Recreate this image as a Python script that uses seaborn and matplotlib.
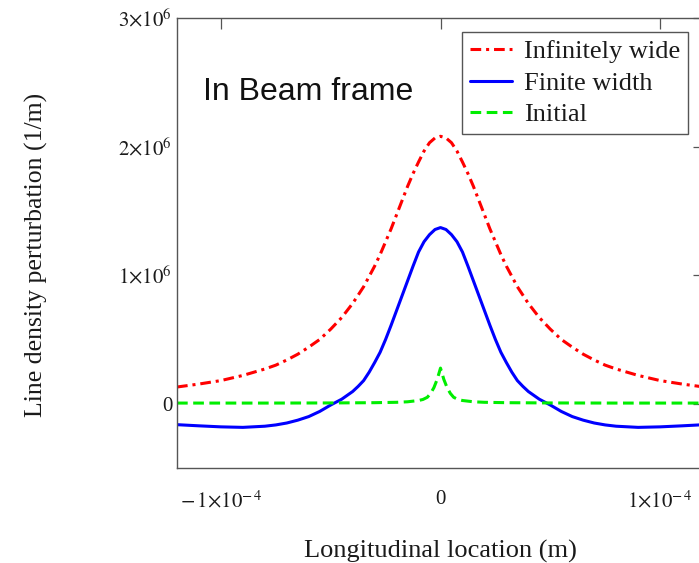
import numpy as np
import pandas as pd
import matplotlib
matplotlib.use("Agg")
import matplotlib.pyplot as plt
import seaborn as sns

# Longitudinal position in units of 1e-4 m, perturbation in units of 1e6 1/m
x_wide = [-1.2, -1.1, -1.0, -0.9, -0.8, -0.75, -0.7, -0.65, -0.6, -0.55, -0.5, -0.45,
          -0.4, -0.375, -0.35, -0.325, -0.3, -0.275, -0.25, -0.225, -0.2, -0.175,
          -0.15, -0.125, -0.1, -0.075, -0.05, -0.025, 0.0,
          0.025, 0.05, 0.075, 0.1, 0.125, 0.15, 0.175, 0.2, 0.225, 0.25, 0.275,
          0.3, 0.325, 0.35, 0.375, 0.4, 0.45, 0.5, 0.55, 0.6, 0.65, 0.7, 0.75,
          0.8, 0.9, 1.0, 1.1, 1.2]
y_wide = [0.13, 0.153, 0.18, 0.22, 0.27, 0.30, 0.34, 0.385, 0.44, 0.50, 0.58, 0.67,
          0.78, 0.845, 0.91, 0.99, 1.07, 1.16, 1.26, 1.36, 1.47, 1.58,
          1.69, 1.79, 1.88, 1.965, 2.03, 2.067, 2.08,
          2.067, 2.03, 1.965, 1.88, 1.79, 1.69, 1.58, 1.47, 1.36, 1.26, 1.16,
          1.07, 0.99, 0.91, 0.845, 0.78, 0.67, 0.58, 0.50, 0.44, 0.385, 0.34, 0.30,
          0.27, 0.22, 0.18, 0.153, 0.13]

x_finite = [-1.2, -1.1, -1.0, -0.9, -0.8, -0.75, -0.7, -0.65, -0.6, -0.55, -0.5,
            -0.45, -0.4, -0.375, -0.35, -0.325, -0.3, -0.275, -0.25, -0.225, -0.2,
            -0.175, -0.15, -0.125, -0.1, -0.075, -0.05, -0.025, 0.0,
            0.025, 0.05, 0.075, 0.1, 0.125, 0.15, 0.175, 0.2, 0.225, 0.25, 0.275,
            0.3, 0.325, 0.35, 0.375, 0.4, 0.45, 0.5, 0.55, 0.6, 0.65, 0.7, 0.75,
            0.8, 0.9, 1.0, 1.1, 1.2]
y_finite = [-0.163, -0.172, -0.18, -0.184, -0.175, -0.165, -0.15, -0.128, -0.10,
            -0.06, -0.01, 0.035, 0.095, 0.135, 0.18, 0.245, 0.32, 0.40, 0.50, 0.61,
            0.725, 0.84, 0.955, 1.07, 1.18, 1.26, 1.315, 1.355, 1.37,
            1.355, 1.315, 1.26, 1.18, 1.07, 0.955, 0.84, 0.725, 0.61, 0.50, 0.40,
            0.32, 0.245, 0.18, 0.135, 0.095, 0.035, -0.01, -0.06, -0.10, -0.128,
            -0.15, -0.165, -0.175, -0.184, -0.18, -0.172, -0.163]

x_initial = [-1.2, -0.8, -0.5, -0.3, -0.2, -0.15, -0.1, -0.08, -0.06, -0.045, -0.03,
             -0.015, 0.0, 0.015, 0.03, 0.045, 0.06, 0.08, 0.1, 0.15, 0.2, 0.3, 0.5,
             0.8, 1.2]
y_initial = [0.005, 0.005, 0.006, 0.008, 0.011, 0.015, 0.025, 0.033, 0.05, 0.08, 0.125,
             0.19, 0.277, 0.19, 0.125, 0.08, 0.05, 0.033, 0.025, 0.015, 0.011, 0.008,
             0.006, 0.005, 0.005]

series_labels = ["Infinitely wide", "Finite width", "Initial"]
x_ticks = [-1e-4, 0.0, 1e-4]
x_ticklabels = [r"$-\,1{\times}10^{-\,4}$", "0", r"$1{\times}10^{-\,4}$"]
y_ticks = [0.0, 1e6, 2e6, 3e6]
y_ticklabels = ["0", r"$1{\times}10^{6}$", r"$2{\times}10^{6}$", r"$3{\times}10^{6}$"]

sns.set_theme(style="white")
plt.rcParams["font.family"] = ["Liberation Serif", "DejaVu Serif"]
plt.rcParams["mathtext.fontset"] = "stix"

frames = []
for lab, xs, ys in zip(series_labels, [x_wide, x_finite, x_initial],
                       [y_wide, y_finite, y_initial]):
    frames.append(pd.DataFrame({"x": np.array(xs) * 1e-4,
                                "y": np.array(ys) * 1e6,
                                "series": lab}))
df = pd.concat(frames, ignore_index=True)

fig = plt.figure(figsize=(6.99, 5.63), dpi=100)
ax = fig.add_axes([177 / 699, 1 - 468 / 563, (704 - 177) / 699, (468 - 18) / 563])

styles = {
    "Infinitely wide": dict(color="#ff0000", dashes=(3.5, 1.6, 1.0, 1.6)),
    "Finite width": dict(color="#0000ff", dashes=None),
    "Initial": dict(color="#00ee00", dashes=(3.5, 1.8)),
}
for lab in series_labels:
    sub = df[df["series"] == lab]
    st = styles[lab]
    sns.lineplot(data=sub, x="x", y="y", ax=ax, color=st["color"], lw=2.2,
                 label=lab, sort=True)
    line = ax.get_lines()[-1]
    line.set_solid_capstyle("round")
    line.set_solid_joinstyle("round")
    if st["dashes"] is not None:
        line.set_dashes(st["dashes"])

ax.set_xlim(-1.2e-4, 1.2e-4)
ax.set_ylim(-0.5e6, 3e6)
ax.set_xticks(x_ticks)
ax.set_xticklabels(x_ticklabels)
ax.set_yticks(y_ticks)
ax.set_yticklabels(y_ticklabels)

for s in ax.spines.values():
    s.set_color("#555555")
    s.set_linewidth(1.0)

ax.tick_params(axis="both", direction="in", length=8, width=0.9, color="#555555",
               top=True, right=True, labelsize=15, labelcolor="#1a1a1a")
ax.tick_params(axis="x", pad=16)
ax.tick_params(axis="y", pad=3.5)

ax.set_xlabel("Longitudinal location (m)", fontsize=19, color="#1a1a1a")
ax.set_ylabel("Line density perturbation (1/m)", fontsize=18.5, color="#1a1a1a")
ax.xaxis.set_label_coords(0.499, -0.16)
ax.yaxis.set_label_coords(-0.245, 0.473)

leg = ax.legend(loc="upper right", bbox_to_anchor=(688 / 699, 1 - 32 / 563),
                bbox_transform=fig.transFigure, borderaxespad=0, fontsize=19,
                frameon=True, fancybox=False, shadow=False, framealpha=1,
                edgecolor="#555555", borderpad=0.3, labelspacing=0.3,
                handlelength=1.6, handletextpad=0.45)
leg.get_frame().set_linewidth(1.0)
for t in leg.get_texts():
    t.set_color("#1a1a1a")

fig.text(203 / 699, 1 - 100 / 563, "In Beam frame", fontsize=23,
         family="Liberation Sans", color="#111111", va="baseline", ha="left")

fig.savefig("out.png", dpi=100, facecolor="white")
